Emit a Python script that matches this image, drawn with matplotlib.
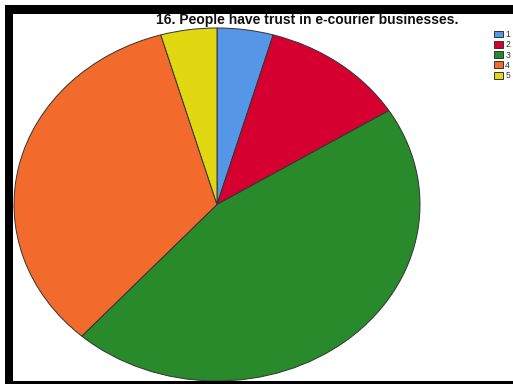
import matplotlib
matplotlib.use("Agg")
import matplotlib.pyplot as plt
from matplotlib.patches import Rectangle

# response counts for statement 16 (Likert scale 1-5)
categories = ["1", "2", "3", "4", "5"]
counts = [5, 13, 51, 38, 5]
colors = ["#5596E6", "#D5002F", "#288A2A", "#F26B2C", "#E1D812"]

title = "16. People have trust in e-courier businesses."

W, H = 513, 384
plt.rcParams["font.family"] = ["Liberation Sans", "DejaVu Sans"]

fig = plt.figure(figsize=(W / 100, H / 100), dpi=100)
fig.patch.set_facecolor("white")

# pie axes, stretched so the pie becomes an ellipse
ax = fig.add_axes([14 / W, 3 / H, 406 / W, 353 / H])
wedges, _ = ax.pie(counts, colors=colors, startangle=90, counterclock=False,
                   wedgeprops=dict(edgecolor="#333333", linewidth=0.7))
ax.set_aspect("auto")
ax.set_xlim(-1, 1)
ax.set_ylim(-1, 1)
ax.axis("off")

fig.text(307 / W, 1 - 20 / H, title, ha="center", va="center",
         fontsize=10, fontweight="bold", color="#111111")

leg = fig.legend(wedges, categories, loc="upper left",
                 bbox_to_anchor=(494 / W, 1 - 30 / H), frameon=False,
                 fontsize=6.2, handlelength=1.05, handleheight=0.85,
                 labelspacing=0.15, handletextpad=0.25, borderpad=0,
                 borderaxespad=0)
for t in leg.get_texts():
    t.set_color("#333333")
for h in leg.legend_handles:
    h.set_edgecolor("#333333")
    h.set_linewidth(0.7)

# thick black frame on the left, top and bottom
frame = dict(facecolor="black", edgecolor="none", transform=fig.transFigure)
fig.add_artist(Rectangle((5 / W, 0), 8 / W, 1 - 5 / H, **frame))
fig.add_artist(Rectangle((5 / W, 1 - 14 / H), 1, 9 / H, **frame))
fig.add_artist(Rectangle((5 / W, 0), 1, 3 / H, **frame))

fig.savefig("out.png", dpi=100, facecolor="white")
